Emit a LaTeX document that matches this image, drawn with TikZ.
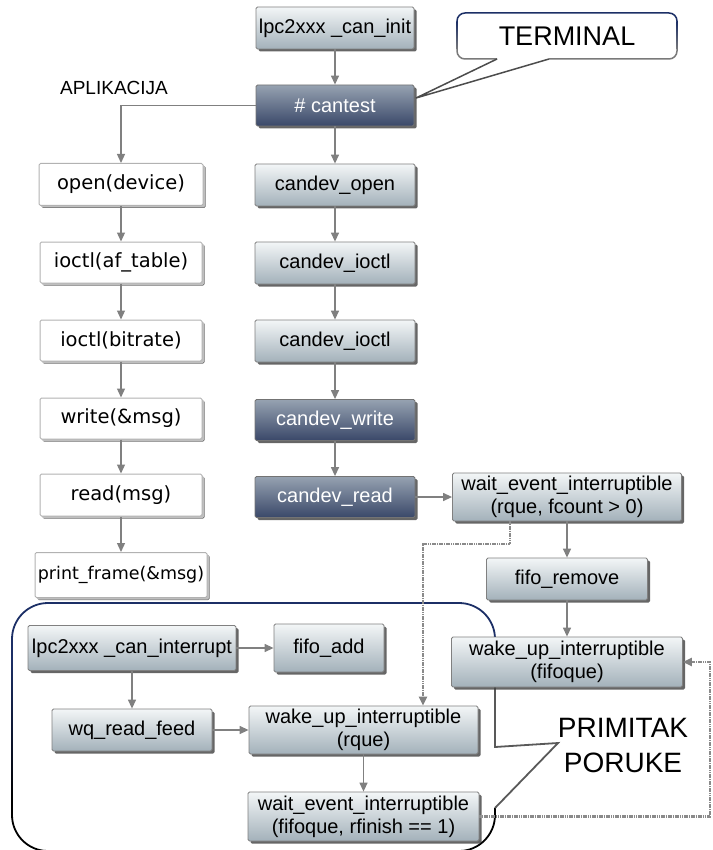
\documentclass[tikz,border=0pt]{standalone}
\usepackage{fontspec}
\setmainfont{Liberation Sans}
\newfontfamily\dvs{DejaVu Sans}
\usetikzlibrary{arrows.meta,shadows}
\definecolor{lt}{HTML}{F3F6F7}
\definecolor{lb}{HTML}{A3B1BA}
\definecolor{dt}{HTML}{96A2B1}
\definecolor{db}{HTML}{3A4869}
\definecolor{navy}{HTML}{1C2F66}
\definecolor{conn}{HTML}{808080}
\definecolor{callgray}{HTML}{7A7A7A}
\definecolor{dotgray}{HTML}{8A8A8A}
\begin{document}
\begin{tikzpicture}[x=1pt,y=-1pt,
 sz/.style 2 args={minimum width=#1pt, minimum height=#2pt},
 box/.style={rectangle, rounded corners=1.5pt, inner sep=0pt, align=center,
   font=\fontsize{20}{23}\selectfont,
   drop shadow={shadow xshift=2.5pt,shadow yshift=-2.5pt,fill=black!75,opacity=0.8}},
 lightbox/.style={box, draw=black!50, line width=0.8pt, top color=lt, bottom color=lb},
 darkbox/.style={box, draw=black!55, line width=0.8pt, top color=dt, bottom color=db, text=white},
 whitebox/.style={box, draw=black!30, line width=1pt, fill=white,
   font=\dvs\fontsize{19.5}{23}\selectfont,
   drop shadow={shadow xshift=2pt,shadow yshift=-2pt,fill=black!25,opacity=1}},
 arr/.style={draw=conn, line width=1.3pt, -{Triangle[length=9pt,width=8pt]}},
 dotarr/.style={draw=dotgray, line width=2.8pt, dash pattern=on 1.6pt off 0.7pt, -{Triangle[length=9pt,width=8pt,color=black!50]}},
 calltext/.style={inner sep=0pt, align=center, font=\fontsize{28}{35}\selectfont},
]
\useasboundingbox (0,0) rectangle (712,850);

% ---- big callout (PRIMITAK PORUKE) ----
\draw[navy, line width=1.8pt, rounded corners=36pt] (12,660) -- (12,603) -- (495,603) -- (495,660);
\shade[top color=navy, bottom color=black] (11.1,660) rectangle (12.9,800);
\draw[black, line width=1.8pt, rounded corners=36pt] (12,800) -- (12,851) -- (495,851) -- (495,808);
\draw[black!65, line width=1.8pt] (495,660) -- (495,747) -- (558,743) -- (495,808);
\node[calltext] (prim) at (623,745) {PRIMITAK\\PORUKE};

% ---- TERMINAL callout ----
\coordinate (tip) at (416,98);
\draw[navy, line width=1.5pt, rounded corners=8pt] (457,22) -- (457,13) -- (677,13) -- (677,22);
\shade[top color=navy, bottom color=callgray] (456.25,22) rectangle (457.75,50);
\shade[top color=navy, bottom color=callgray] (676.25,22) rectangle (677.75,50);
\draw[callgray, line width=1.5pt, rounded corners=8pt] (457,50) -- (457,59) -- (497,59);
\draw[callgray, line width=1.5pt, rounded corners=8pt] (549,59) -- (677,59) -- (677,50);
\draw[black!70, line width=1.5pt] (497,59) -- (tip) -- (549,59);
\node[calltext, font=\fontsize{27}{30}\selectfont] (term) at (567,36) {TERMINAL};

\node[inner sep=0pt, font=\fontsize{19}{22}\selectfont] (apl) at (114,88) {APLIKACIJA};

% ---- middle column ----
\node[lightbox, sz={158}{42}] (init) at (335,28) {lpc2xxx \_can\_init};
\node[darkbox, sz={158}{41}] (cantest) at (335,105.5) {\# cantest};
\node[lightbox, sz={160}{42}] (copen) at (335,185) {candev\_open};
\node[lightbox, sz={160}{42}] (cioctl) at (335,263) {candev\_ioctl};
\node[lightbox, sz={160}{42}] (cioctlb) at (335,341) {candev\_ioctl};
\node[darkbox, sz={160}{41}] (cwrite) at (335,420) {candev\_write};
\node[darkbox, sz={160}{41}] (cread) at (335,497) {candev\_read};

% ---- left column ----
\node[whitebox, sz={164}{42}] (open) at (121,184.5) {open(device)};
\node[whitebox, sz={162}{41}] (aft) at (121,262.5) {ioctl(af\_table)};
\node[whitebox, sz={162}{41}] (bit) at (121,340.5) {ioctl(bitrate)};
\node[whitebox, sz={162}{41}] (wr) at (121,418.5) {write(\&msg)};
\node[whitebox, sz={162}{42}] (rd) at (121,495) {read(msg)};
\node[whitebox, sz={172}{45}, font=\dvs\fontsize{17.5}{21}\selectfont] (pf) at (121,575) {print\_frame(\&msg)};

% ---- right column ----
\node[lightbox, sz={229}{48}] (wait1) at (567,497) {wait\_event\_interruptible\\(rque, fcount > 0)};
\node[lightbox, sz={161}{42}] (frem) at (567,579) {fifo\_remove};
\node[lightbox, sz={231}{50}] (wfq) at (567,662) {wake\_up\_interruptible\\(fifoque)};

% ---- bottom group ----
\node[lightbox, sz={208}{45}] (irq) at (132,648) {lpc2xxx \_can\_interrupt};
\node[lightbox, sz={110}{48}] (fadd) at (329,648) {fifo\_add};
\node[lightbox, sz={160}{42}] (wqf) at (132,730) {wq\_read\_feed};
\node[lightbox, sz={229}{48}] (wrq) at (363.5,730) {wake\_up\_interruptible\\(rque)};
\node[lightbox, sz={231}{49}] (wait2) at (363.5,816.5) {wait\_event\_interruptible\\(fifoque, rfinish == 1)};

% ---- connectors ----
\draw[arr] (init) -- (cantest);
\draw[arr] (cantest) -- (copen);
\draw[arr] (copen) -- (cioctl);
\draw[arr] (cioctl) -- (cioctlb);
\draw[arr] (cioctlb) -- (cwrite);
\draw[arr] (cwrite) -- (cread);
\draw[arr] (cantest.west) -| (open.north);
\draw[arr] (open) -- (aft);
\draw[arr] (aft) -- (bit);
\draw[arr] (bit) -- (wr);
\draw[arr] (wr) -- (rd);
\draw[arr] (rd) -- (pf);
\draw[arr] (cread) -- (wait1);
\draw[arr] (wait1) -- (frem);
\draw[arr] (frem) -- (wfq);
\draw[arr] (irq) -- (fadd);
\draw[arr] (irq) -- (wqf);
\draw[arr] (wqf) -- (wrq);
\draw[arr] (wrq) -- (wait2);

\coordinate (d1a) at (510,544);
\coordinate (d1b) at (423,544);
\draw[dotarr] (wait1.south -| d1a) -- (d1a) -- (d1b) -- (wrq.north -| d1b);
\coordinate (d2a) at (710,662);
\draw[dotarr] (wait2.east) -- (wait2.east -| d2a) -- (d2a) -- (wfq.east);
\end{tikzpicture}
\end{document}
